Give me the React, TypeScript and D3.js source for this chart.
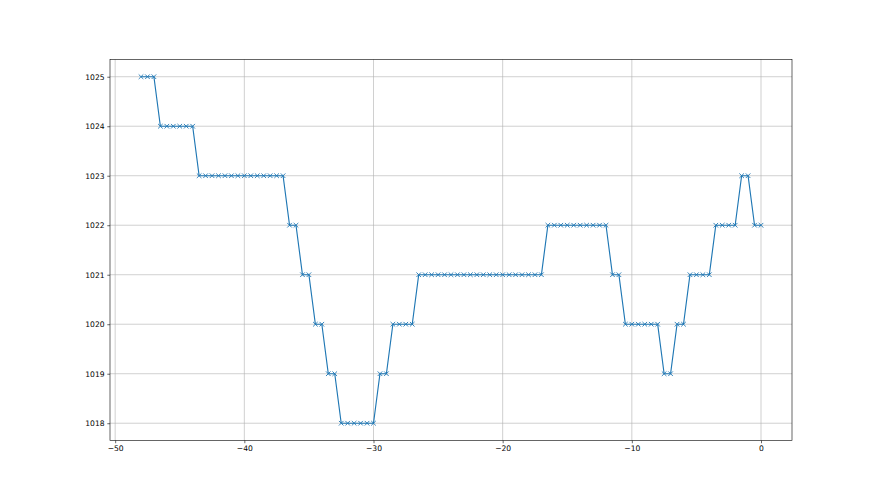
import * as React from "react";
import * as d3 from "d3";

// hours relative to now
const hours = [
  -48, -47.5, -47, -46.5, -46, -45.5, -45, -44.5, -44, -43.5, -43, -42.5, -42,
  -41.5, -41, -40.5, -40, -39.5, -39, -38.5, -38, -37.5, -37, -36.5, -36,
  -35.5, -35, -34.5, -34, -33.5, -33, -32.5, -32, -31.5, -31, -30.5, -30,
  -29.5, -29, -28.5, -28, -27.5, -27, -26.5, -26, -25.5, -25, -24.5, -24,
  -23.5, -23, -22.5, -22, -21.5, -21, -20.5, -20, -19.5, -19, -18.5, -18,
  -17.5, -17, -16.5, -16, -15.5, -15, -14.5, -14, -13.5, -13, -12.5, -12,
  -11.5, -11, -10.5, -10, -9.5, -9, -8.5, -8, -7.5, -7, -6.5, -6, -5.5, -5,
  -4.5, -4, -3.5, -3, -2.5, -2, -1.5, -1, -0.5, 0,
];

const pressure = [
  1025, 1025, 1025,
  1024, 1024, 1024, 1024, 1024, 1024,
  1023, 1023, 1023, 1023, 1023, 1023, 1023, 1023, 1023, 1023, 1023, 1023, 1023, 1023,
  1022, 1022,
  1021, 1021,
  1020, 1020,
  1019, 1019,
  1018, 1018, 1018, 1018, 1018, 1018,
  1019, 1019,
  1020, 1020, 1020, 1020,
  1021, 1021, 1021, 1021, 1021, 1021, 1021, 1021, 1021, 1021,
  1021, 1021, 1021, 1021, 1021, 1021, 1021, 1021, 1021, 1021,
  1022, 1022, 1022, 1022, 1022, 1022, 1022, 1022, 1022, 1022,
  1021, 1021,
  1020, 1020, 1020, 1020, 1020, 1020,
  1019, 1019,
  1020, 1020,
  1021, 1021, 1021, 1021,
  1022, 1022, 1022, 1022,
  1023, 1023,
  1022, 1022,
];

const xTicks = [-50, -40, -30, -20, -10, 0];
const yTicks = [1018, 1019, 1020, 1021, 1022, 1023, 1024, 1025];

function drawChart(svgRef) {
  const width = 880;
  const height = 495;
  const margin = { left: 110, right: 88, top: 59.4, bottom: 54.45 };
  const color = "#1f77b4";

  const data = hours.map((h, i) => ({ h, p: pressure[i] }));

  const xPad = (d3.max(hours) - d3.min(hours)) * 0.05;
  const yPad = (d3.max(pressure) - d3.min(pressure)) * 0.05;

  const x = d3
    .scaleLinear()
    .domain([d3.min(hours) - xPad, d3.max(hours) + xPad])
    .range([margin.left, width - margin.right]);
  const y = d3
    .scaleLinear()
    .domain([d3.min(pressure) - yPad, d3.max(pressure) + yPad])
    .range([height - margin.bottom, margin.top]);

  const svg = d3.select(svgRef.current).attr("width", width).attr("height", height);
  svg.selectAll("*").remove();

  svg.append("rect").attr("width", width).attr("height", height).attr("fill", "#fff");

  // grid
  const grid = svg.append("g").attr("stroke", "#b0b0b0").attr("stroke-width", 0.6);
  grid
    .selectAll(".gx")
    .data(xTicks)
    .enter()
    .append("line")
    .attr("x1", (d) => x(d))
    .attr("x2", (d) => x(d))
    .attr("y1", margin.top)
    .attr("y2", height - margin.bottom);
  grid
    .selectAll(".gy")
    .data(yTicks)
    .enter()
    .append("line")
    .attr("x1", margin.left)
    .attr("x2", width - margin.right)
    .attr("y1", (d) => y(d))
    .attr("y2", (d) => y(d));

  const fmt = (d) => (d < 0 ? "\u2212" + Math.abs(d) : String(d));

  const xAxis = svg
    .append("g")
    .attr("transform", `translate(0, ${height - margin.bottom})`)
    .call(d3.axisBottom(x).tickValues(xTicks).tickFormat(fmt).tickSize(2.7).tickPadding(2.7).tickSizeOuter(0));
  const yAxis = svg
    .append("g")
    .attr("transform", `translate(${margin.left}, 0)`)
    .call(d3.axisLeft(y).tickValues(yTicks).tickFormat(d3.format("d")).tickSize(2.7).tickPadding(2.7).tickSizeOuter(0));

  [xAxis, yAxis].forEach((ax) => {
    ax.select(".domain").remove();
    ax.selectAll("line").attr("stroke", "#000").attr("stroke-width", 0.6);
    ax.selectAll("text")
      .attr("fill", "#000")
      .attr("font-family", "DejaVu Sans")
      .attr("font-size", 7.6);
  });

  // line + markers
  const line = d3
    .line()
    .x((d) => x(d.h))
    .y((d) => y(d.p));

  svg
    .append("path")
    .datum(data)
    .attr("d", line)
    .attr("fill", "none")
    .attr("stroke", color)
    .attr("stroke-width", 1.15)
    .attr("stroke-linejoin", "round");

  const m = 2.3;
  svg
    .selectAll(".marker")
    .data(data)
    .enter()
    .append("path")
    .classed("marker", true)
    .attr("d", (d) => {
      const cx = x(d.h);
      const cy = y(d.p);
      return `M${cx - m},${cy - m}L${cx + m},${cy + m}M${cx - m},${cy + m}L${cx + m},${cy - m}`;
    })
    .attr("stroke", color)
    .attr("stroke-width", 0.9)
    .attr("fill", "none");

  // spines
  svg
    .append("rect")
    .attr("x", margin.left)
    .attr("y", margin.top)
    .attr("width", width - margin.left - margin.right)
    .attr("height", height - margin.top - margin.bottom)
    .attr("fill", "none")
    .attr("stroke", "#000")
    .attr("stroke-width", 0.6);
}

const App = () => {
  const svgRef = React.useRef(null);

  React.useEffect(() => {
    document.body.style.margin = "0";
    drawChart(svgRef);
  }, [svgRef]);

  return <svg ref={svgRef} style={{ display: "block" }} />;
};

export default App;
